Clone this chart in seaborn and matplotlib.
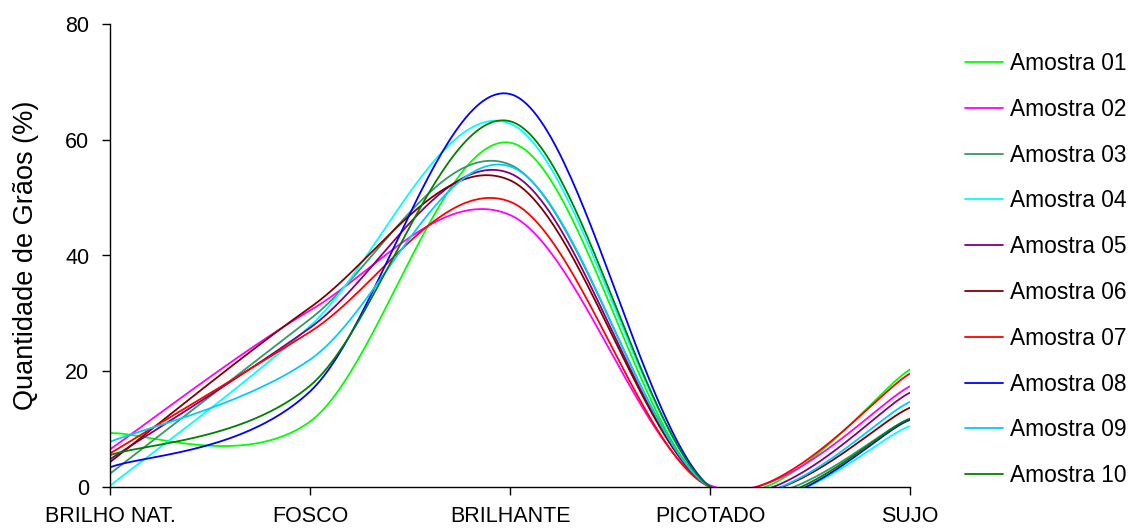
import numpy as np
import pandas as pd
import matplotlib
matplotlib.use("Agg")
import matplotlib.pyplot as plt
import seaborn as sns

categories = ["BRILHO NAT.", "FOSCO", "BRILHANTE", "PICOTADO", "SUJO"]
series_names = ["Amostra 01", "Amostra 02", "Amostra 03", "Amostra 04", "Amostra 05",
                "Amostra 06", "Amostra 07", "Amostra 08", "Amostra 09", "Amostra 10"]
amostra01 = [9.3, 11.3, 59.5, 0.0, 20.3]
amostra02 = [6.5, 30.5, 47.0, 0.3, 17.4]
amostra03 = [2.3, 29.0, 55.7, 0.0, 11.8]
amostra04 = [0.2, 27.8, 62.8, 0.0, 10.5]
amostra05 = [4.8, 27.5, 54.2, 0.0, 16.3]
amostra06 = [4.3, 31.0, 53.0, 0.0, 13.7]
amostra07 = [5.8, 26.8, 49.3, 0.0, 19.6]
amostra08 = [3.4, 16.5, 67.9, 0.0, 11.6]
amostra09 = [7.8, 22.0, 55.4, 0.0, 14.7]
amostra10 = [5.5, 17.5, 63.2, 0.0, 11.8]
values = [amostra01, amostra02, amostra03, amostra04, amostra05,
          amostra06, amostra07, amostra08, amostra09, amostra10]
colors = ["#00FF00", "#FF00FF", "#339966", "#00FFFF", "#800080",
          "#800000", "#FF0000", "#0000FF", "#00CCFF", "#008000"]
yticks = [0, 20, 40, 60, 80]


def smooth(xs, ys, n=60):
    # Catmull-Rom style Bezier smoothing (as spreadsheet "smoothed line")
    P = np.column_stack([xs, ys]).astype(float)
    Pext = np.vstack([P[0], P, P[-1]])
    out = []
    for i in range(len(P) - 1):
        p0, p1, p2, p3 = Pext[i], Pext[i + 1], Pext[i + 2], Pext[i + 3]
        c1 = p1 + (p2 - p0) / 6.0
        c2 = p2 - (p3 - p1) / 6.0
        t = np.linspace(0, 1, n)[:, None]
        if i > 0:
            t = t[1:]
        b = (1 - t) ** 3 * p1 + 3 * (1 - t) ** 2 * t * c1 + 3 * (1 - t) * t ** 2 * c2 + t ** 3 * p2
        out.append(b)
    out = np.vstack(out)
    return out[:, 0], out[:, 1]


frames = []
xs = np.arange(len(categories))
for name, vals in zip(series_names, values):
    sx, sy = smooth(xs, vals)
    frames.append(pd.DataFrame({"x": sx, "y": sy, "Amostra": name}))
df = pd.concat(frames, ignore_index=True)

sns.set_style("white")
plt.rcParams["font.family"] = ["Liberation Sans", "DejaVu Sans"]
plt.rcParams["text.color"] = "black"
plt.rcParams["axes.labelcolor"] = "black"
plt.rcParams["xtick.color"] = "black"
plt.rcParams["ytick.color"] = "black"

fig = plt.figure(figsize=(11.31, 5.30), dpi=100)
ax = fig.add_axes([110 / 1131, 1 - 487 / 530, 800 / 1131, 463 / 530])
sns.lineplot(data=df, x="x", y="y", hue="Amostra", palette=dict(zip(series_names, colors)),
             sort=False, estimator=None, linewidth=1.3, ax=ax, legend=True)

ax.set_xlim(0, len(categories) - 1)
ax.set_ylim(0, 80)
ax.set_yticks(yticks)
ax.set_yticklabels([str(v) for v in yticks], fontsize=15.5, color="black")
ax.set_xticks(xs)
ax.set_xticklabels(categories, fontsize=15.5, color="black")
ax.set_xlabel("")
ax.set_ylabel("Quantidade de Grãos (%)", fontsize=19.5, labelpad=19, color="black")
for s in ["top", "right"]:
    ax.spines[s].set_visible(False)
for s in ["left", "bottom"]:
    ax.spines[s].set_color("black")
    ax.spines[s].set_linewidth(1.0)
ax.tick_params(axis="y", direction="out", length=6, width=1, color="black", left=True, pad=9)
ax.tick_params(axis="x", direction="out", length=6, width=1, color="black", bottom=True, pad=8)

handles, labels = ax.get_legend_handles_labels()
leg = ax.legend(handles, labels, loc="upper left", bbox_to_anchor=(956 / 1131, 1 - 43 / 530),
                bbox_transform=fig.transFigure, frameon=False, fontsize=16.4,
                handlelength=1.67, handletextpad=0.3, labelspacing=1.0, borderaxespad=0)
for t in leg.get_texts():
    t.set_color("black")

fig.savefig("out.png", dpi=100)
